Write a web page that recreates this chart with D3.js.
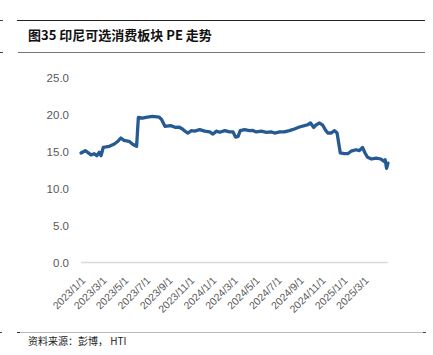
<!DOCTYPE html>
<html>
<head>
<meta charset="utf-8">
<script src="https://cdn.jsdelivr.net/npm/d3@7"></script>
<style>
  html, body { margin: 0; padding: 0; background: #fff; }
  svg { display: block; }
</style>
</head>
<body>
<svg id="chart" width="433" height="355"></svg>
<script>
const title = "图35 印尼可选消费板块 PE 走势";
const source = "资料来源：彭博， HTI";

const dates = [
  "2023-01-01","2023-01-13","2023-01-29","2023-02-07","2023-02-14","2023-02-21","2023-02-26",
  "2023-03-04","2023-03-12","2023-03-21","2023-04-04","2023-04-13","2023-04-22","2023-05-01",
  "2023-05-15","2023-05-26","2023-06-05","2023-06-10","2023-06-22","2023-07-01","2023-07-19",
  "2023-08-07","2023-08-14","2023-08-23","2023-09-08","2023-09-22","2023-10-01","2023-10-11",
  "2023-10-18","2023-10-26","2023-11-05","2023-11-14","2023-11-28","2023-12-12","2023-12-26",
  "2024-01-04","2024-01-13","2024-01-23","2024-02-06","2024-02-19","2024-02-29","2024-03-07",
  "2024-03-14","2024-03-20","2024-04-01","2024-04-15","2024-04-24","2024-05-04","2024-05-18",
  "2024-06-01","2024-06-14","2024-06-24","2024-07-08","2024-07-21","2024-08-04","2024-08-18",
  "2024-09-01","2024-09-15","2024-09-24","2024-10-02","2024-10-11","2024-10-18","2024-10-27",
  "2024-11-05","2024-11-12","2024-11-19","2024-11-28","2024-12-08","2024-12-15","2024-12-24",
  "2025-01-04","2025-01-14","2025-01-23","2025-02-06","2025-02-15","2025-02-24","2025-03-03",
  "2025-03-10","2025-03-21","2025-04-03","2025-04-16","2025-04-24","2025-04-28","2025-05-02",
  "2025-05-06"
];
const peValues = [
  14.76,15.07,14.5,14.66,14.4,14.85,14.4,
  15.5,15.57,15.66,15.97,16.3,16.78,16.47,
  16.33,15.9,15.66,19.57,19.47,19.57,19.7,
  19.6,19.25,18.35,18.44,18.2,18.25,18.0,
  17.7,17.45,17.77,17.7,17.9,17.7,17.6,
  17.3,17.7,17.55,17.77,17.6,17.6,16.9,
  17.0,17.77,17.9,17.77,17.8,17.6,17.7,
  17.55,17.6,17.45,17.6,17.6,17.77,18.0,
  18.26,18.44,18.57,18.8,18.2,18.57,18.8,
  18.5,17.9,17.45,17.45,17.77,17.45,14.76,
  14.66,14.66,15.0,15.2,15.07,15.5,14.76,
  14.18,13.95,14.08,13.95,13.64,13.85,12.7,
  13.4
];
const yTicks = [0, 5, 10, 15, 20, 25];
const xTickLabels = ["2023/1/1","2023/3/1","2023/5/1","2023/7/1","2023/9/1","2023/11/1",
  "2024/1/1","2024/3/1","2024/5/1","2024/7/1","2024/9/1","2024/11/1","2025/1/1","2025/3/1"];
const xDomain = ["2023-01-01", "2025-05-06"];

const parse = d3.timeParse("%Y-%m-%d");
const parseLabel = d3.timeParse("%Y/%m/%d");
const data = dates.map((d, i) => ({ date: parse(d), value: peValues[i] }));

const svg = d3.select("#chart");
const plot = { left: 81, right: 388, top: 77, bottom: 262.5 };

const x = d3.scaleTime().domain(xDomain.map(parse)).range([plot.left, plot.right]);
const y = d3.scaleLinear().domain([0, 25]).range([plot.bottom, plot.top]);

// Header rules and page marks
svg.append("line").attr("x1", 17).attr("x2", 425).attr("y1", 20.5).attr("y2", 20.5)
  .attr("stroke", "#222").attr("stroke-width", 1);
svg.append("line").attr("x1", 18).attr("x2", 425).attr("y1", 52.5).attr("y2", 52.5)
  .attr("stroke", "#777").attr("stroke-width", 1.2);
svg.append("line").attr("x1", 0).attr("x2", 3).attr("y1", 20.5).attr("y2", 20.5)
  .attr("stroke", "#444").attr("stroke-width", 1);
svg.append("line").attr("x1", 0).attr("x2", 3).attr("y1", 52.5).attr("y2", 52.5)
  .attr("stroke", "#444").attr("stroke-width", 1);

svg.append("text").attr("x", 28).attr("y", 40)
  .attr("font-family", "'Noto Sans CJK SC', 'Liberation Sans', sans-serif")
  .attr("font-size", 13).attr("font-weight", "bold").attr("fill", "#111")
  .text(title);

// Footer
svg.append("line").attr("x1", 18).attr("x2", 425).attr("y1", 332.5).attr("y2", 332.5)
  .attr("stroke", "#bbb").attr("stroke-width", 1);
svg.append("line").attr("x1", 17).attr("x2", 20).attr("y1", 332.5).attr("y2", 332.5)
  .attr("stroke", "#333").attr("stroke-width", 1);
svg.append("line").attr("x1", 0).attr("x2", 2).attr("y1", 332.5).attr("y2", 332.5)
  .attr("stroke", "#444").attr("stroke-width", 1);
svg.append("line").attr("x1", 423).attr("x2", 426).attr("y1", 332.5).attr("y2", 332.5)
  .attr("stroke", "#444").attr("stroke-width", 1);
svg.append("text").attr("x", 28).attr("y", 345)
  .attr("font-family", "'Noto Sans CJK SC', 'Liberation Sans', sans-serif")
  .attr("font-size", 10).attr("fill", "#222")
  .text(source);

// Y axis (labels only) and baseline
const yAxis = d3.axisLeft(y).tickValues(yTicks).tickFormat(d3.format(".1f")).tickSize(0).tickPadding(0);
const yG = svg.append("g").attr("transform", `translate(${69},0)`).call(yAxis);
yG.select(".domain").remove();
yG.selectAll("text").attr("font-family", "'Liberation Sans', Arial, sans-serif")
  .attr("font-size", 11.5).attr("fill", "#595959").attr("dy", "0.35em");

svg.append("line").attr("x1", plot.left).attr("x2", plot.right)
  .attr("y1", y(0)).attr("y2", y(0)).attr("stroke", "#d9d9d9").attr("stroke-width", 1.3);

// X axis labels (rotated)
const xAxis = d3.axisBottom(x).tickValues(xTickLabels.map(parseLabel))
  .tickFormat((d, i) => xTickLabels[i]).tickSize(0).tickPadding(0);
const xG = svg.append("g").attr("transform", `translate(0,${plot.bottom})`).call(xAxis);
xG.select(".domain").remove();
xG.selectAll("text")
  .attr("font-family", "'Liberation Sans', Arial, sans-serif")
  .attr("font-size", 10.5).attr("fill", "#595959")
  .attr("text-anchor", "end")
  .attr("dy", "0.35em")
  .attr("transform", "translate(2,16) rotate(-45)");

// Line
const line = d3.line().x(d => x(d.date)).y(d => y(d.value));
svg.append("path").datum(data)
  .attr("d", line).attr("fill", "none")
  .attr("stroke", "#255a92").attr("stroke-width", 3.3)
  .attr("stroke-linejoin", "round").attr("stroke-linecap", "round");
</script>
</body>
</html>
